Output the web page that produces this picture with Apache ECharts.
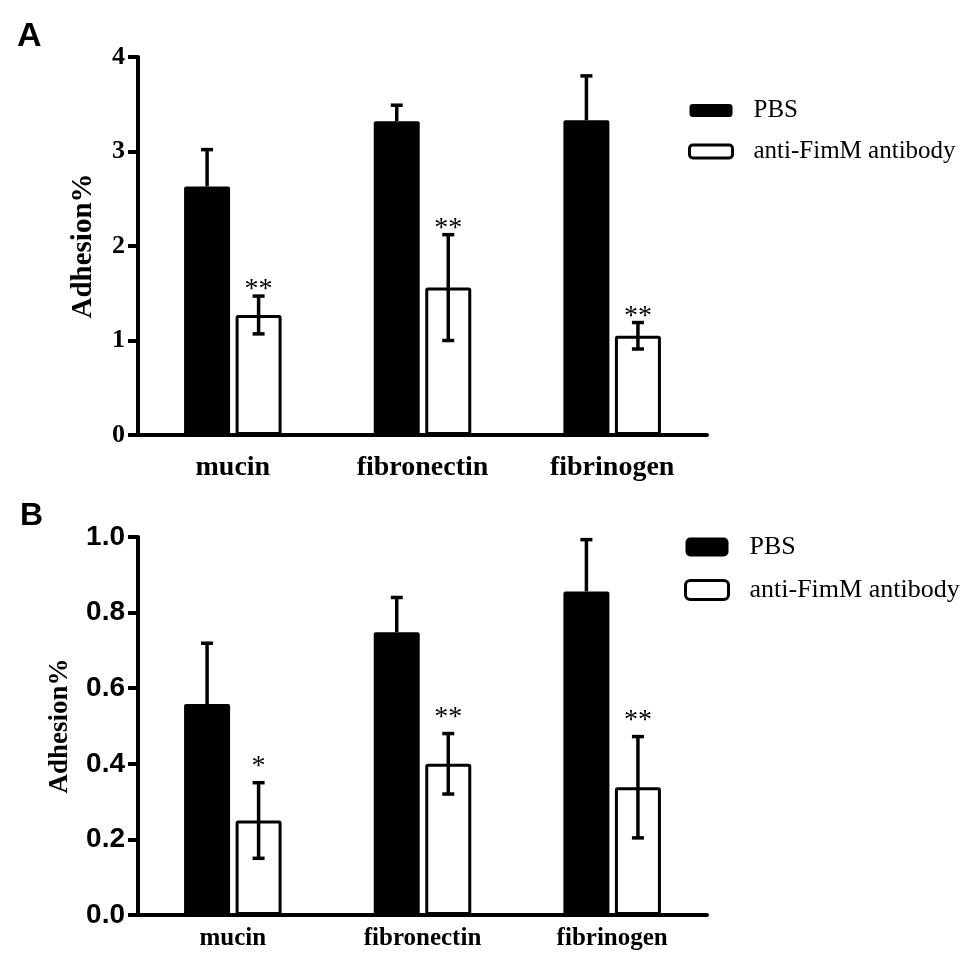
<!DOCTYPE html>
<html lang="en">
<head>
    <meta charset="UTF-8">
    <title>Adhesion</title>
    <script src="https://cdn.jsdelivr.net/npm/echarts@6/dist/echarts.min.js"></script>
    <style>
        html, body { margin: 0; padding: 0; background: #fff; }
        #main { width: 975px; height: 971px; }
    </style>
</head>
<body>
    <div id="main"></div>

    <script type="text/javascript">
        // data
        var categories = ['mucin', 'fibronectin', 'fibrinogen'];
        var groups = ['PBS', 'anti-FimM antibody'];

        // panel A
        var pbsA = [2.63, 3.32, 3.33];
        var pbsSdA = [0.39, 0.17, 0.47];
        var antiA = [1.27, 1.56, 1.05];
        var antiSdA = [0.20, 0.56, 0.14];
        var sigA = ['**', '**', '**'];
        var ticksA = { min: 0, max: 4, interval: 1 };

        // panel B
        var pbsB = [0.558, 0.748, 0.856];
        var pbsSdB = [0.161, 0.092, 0.137];
        var antiB = [0.25, 0.40, 0.338];
        var antiSdB = [0.10, 0.08, 0.134];
        var sigB = ['*', '**', '**'];
        var ticksB = { min: 0, max: 1, interval: 0.2 };

        var SERIF = "'Liberation Serif', 'Times New Roman', serif";
        var SANS = "'Liberation Sans', Arial, sans-serif";
        var BAR_W = 46, BAR_GAP = 0.12;
        var OFFSET = BAR_W * (1 + BAR_GAP) / 2;

        function zip(means, sds) {
            var out = [];
            for (var i = 0; i < means.length; i++) out.push([i, means[i], sds[i]]);
            return out;
        }

        // error bar (+ optional significance stars) drawn in a custom series
        function errorBars(dx, upperOnly, sigs, starGap) {
            return function (params, api) {
                var i = api.value(0), m = api.value(1), s = api.value(2);
                var mid = api.coord([i, m]);
                var top = api.coord([i, m + s]);
                var bot = api.coord([i, m - s]);
                var x = mid[0] + dx;
                var st = { stroke: '#000', lineWidth: 3.5 };
                var kids = [
                    { type: 'line', shape: { x1: x, y1: upperOnly ? mid[1] : bot[1], x2: x, y2: top[1] }, style: st },
                    { type: 'line', shape: { x1: x - 6, y1: top[1], x2: x + 6, y2: top[1] }, style: st }
                ];
                if (!upperOnly) {
                    kids.push({ type: 'line', shape: { x1: x - 6, y1: bot[1], x2: x + 6, y2: bot[1] }, style: st });
                }
                if (sigs) {
                    kids.push({
                        type: 'text',
                        style: {
                            text: sigs[params.dataIndex], x: x, y: top[1] - starGap,
                            align: 'center', verticalAlign: 'middle',
                            font: '28px ' + SERIF, fill: '#000'
                        }
                    });
                }
                return { type: 'group', children: kids };
            };
        }

        function xAxis(idx, fontSize, margin) {
            return {
                type: 'category', gridIndex: idx, data: categories,
                axisLine: { lineStyle: { color: '#000', width: 4 } },
                axisTick: { alignWithLabel: true, length: 10, lineStyle: { color: '#000', width: 4 } },
                axisLabel: { color: '#000', fontFamily: SERIF, fontWeight: 'bold', fontSize: fontSize, margin: margin },
                splitLine: { show: false }
            };
        }

        function yAxis(idx, t, font, fontSize, digits, nameGap, nameSize) {
            return {
                type: 'value', gridIndex: idx, min: t.min, max: t.max, interval: t.interval,
                name: 'Adhesion%', nameLocation: 'middle', nameGap: nameGap,
                nameTextStyle: { color: '#000', fontFamily: SERIF, fontWeight: 'bold', fontSize: nameSize },
                axisLine: { show: true, lineStyle: { color: '#000', width: 4 } },
                axisTick: { show: true, length: 10, lineStyle: { color: '#000', width: 4 } },
                axisLabel: {
                    color: '#000', fontFamily: font, fontWeight: 'bold', fontSize: fontSize, margin: 13,
                    formatter: function (v) { return v.toFixed(digits); }
                },
                splitLine: { show: false }
            };
        }

        function legend(left, top, itemH, gap, fontSize) {
            return {
                orient: 'vertical', left: left, top: top, itemGap: gap,
                itemWidth: 43, itemHeight: itemH, icon: 'roundRect', padding: 0,
                textStyle: { color: '#000', fontFamily: SERIF, fontSize: fontSize, padding: [0, 0, 0, 16] },
                data: [
                    { name: groups[0], itemStyle: { color: '#000', borderWidth: 0 } },
                    { name: groups[1], itemStyle: { color: '#fff', borderColor: '#000', borderWidth: 3 } }
                ]
            };
        }

        function bars(idx, means, sds, isPbs, sigs, starGap) {
            return [{
                type: 'bar', name: isPbs ? groups[0] : groups[1],
                xAxisIndex: idx, yAxisIndex: idx,
                barWidth: BAR_W, barGap: (BAR_GAP * 100) + '%',
                data: means,
                itemStyle: isPbs
                    ? { color: '#000', borderRadius: 2 }
                    : { color: '#fff', borderColor: '#000', borderWidth: 3, borderRadius: 1 },
                silent: true
            }, {
                type: 'custom', xAxisIndex: idx, yAxisIndex: idx, z: 5, silent: true,
                renderItem: errorBars(isPbs ? -OFFSET : OFFSET, isPbs, sigs, starGap),
                data: zip(means, sds)
            }];
        }

        var myChart = echarts.init(document.getElementById('main'));
        var option = {
            animation: false,
            backgroundColor: '#fff',
            title: [
                { text: 'A', left: 17, top: 20, padding: 0, textStyle: { fontFamily: SANS, fontWeight: 'bold', fontSize: 34, color: '#000' } },
                { text: 'B', left: 20, top: 500, padding: 0, textStyle: { fontFamily: SANS, fontWeight: 'bold', fontSize: 32, color: '#000' } }
            ],
            legend: [
                legend(688, 98, 13, 16, 25),
                legend(684, 534, 19, 17, 26)
            ],
            grid: [
                { left: 138, top: 57, width: 569, height: 378 },
                { left: 138, top: 537, width: 569, height: 378 }
            ],
            xAxis: [xAxis(0, 28, 19), xAxis(1, 25, 11)],
            yAxis: [
                yAxis(0, ticksA, SERIF, 26, 0, 40, 29),
                yAxis(1, ticksB, SANS, 28, 1, 64, 27)
            ],
            series: [].concat(
                bars(0, pbsA, pbsSdA, true),
                bars(0, antiA, antiSdA, false, sigA, 6),
                bars(1, pbsB, pbsSdB, true),
                bars(1, antiB, antiSdB, false, sigB, 16)
            )
        };
        myChart.setOption(option);
    </script>
</body>
</html>
